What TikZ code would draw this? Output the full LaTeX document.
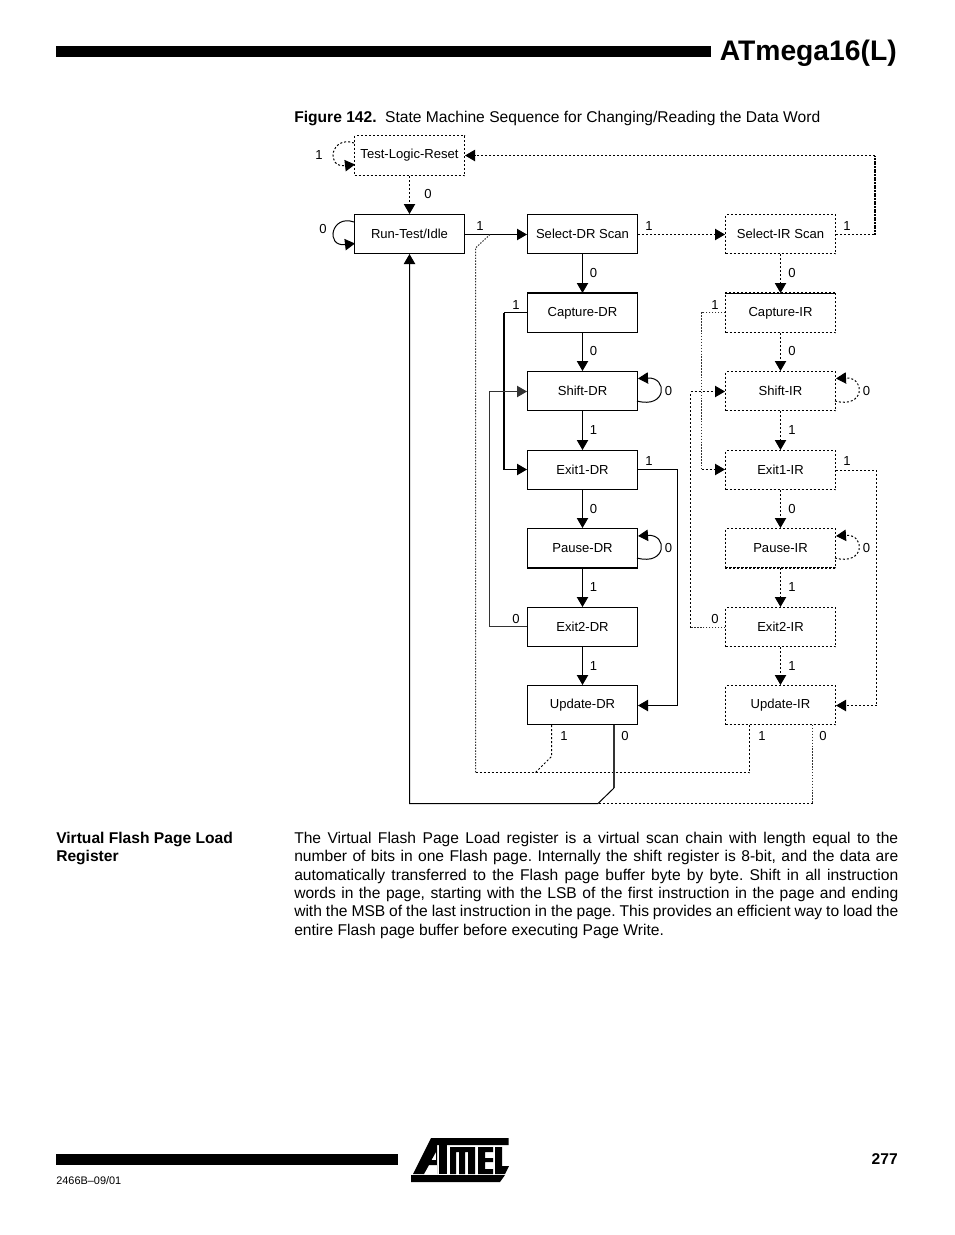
\documentclass[tikz,border=0pt]{standalone}
\usepackage{fontspec}
\setmainfont{Liberation Sans}
\usetikzlibrary{arrows.meta}
\frenchspacing
\tikzset{
  x=0.75pt,y=-0.75pt,
  sbox/.style={draw,line width=0.75pt,minimum width=82.5pt,minimum height=29.25pt,inner sep=0pt,font=\fontsize{9.8pt}{11pt}\selectfont},
  dbox/.style={sbox,dash pattern=on 1.5pt off 1.5pt},
  tipA/.style={-{Triangle[length=7.5pt,width=8.5pt]}},
  wire/.style={line width=0.75pt},
  hvy/.style={line width=1.4pt},
  edgeh/.style={line width=1.1pt},
  dwire/.style={line width=0.75pt,dash pattern=on 1.5pt off 1.5pt},
  gwire/.style={line width=0.75pt,dash pattern=on 1.1pt off 1.1pt,black!80},
  lab/.style={inner sep=0pt,font=\fontsize{9.8pt}{11pt}\selectfont},
  body/.style={inner sep=0pt,anchor=base west,font=\fontsize{11.7pt}{13.8pt}\selectfont},
  bar/.style={fill=black,draw=none}
}
\newcommand{\jline}[3]{\node[body] (#1) at (294,#2) {#3};}
\begin{document}
\begin{tikzpicture}
\useasboundingbox (0,0) rectangle (954,1235);
\fill[white] (0,0) rectangle (954,1235);
% page furniture
\fill[bar] (56,46) rectangle (711,57);
\node[inner sep=0pt,anchor=base east,font=\bfseries\fontsize{21.2pt}{26pt}\selectfont] (title) at (897,60) {ATmega16(L)};
\node[inner sep=0pt,anchor=base west,font=\fontsize{11.7pt}{13pt}\selectfont] (cap) at (294,122) {\textbf{Figure 142.}\hspace{0.55em}State Machine Sequence for Changing/Reading the Data Word};
\fill[bar] (56,1154) rectangle (398,1165);
\node[inner sep=0pt,anchor=base east,font=\bfseries\fontsize{11.7pt}{13pt}\selectfont] (pg) at (898,1164) {277};
\node[inner sep=0pt,anchor=base west,font=\fontsize{8.2pt}{10pt}\selectfont] (code) at (56,1184) {2466B–09/01};
% logo
\fill[black] (431,1138) -- (508.5,1138) -- (508.5,1145) -- (427.5,1145) -- cycle;
\fill[black] (411,1175) -- (505,1175) -- (500,1182) -- (411,1182) -- cycle;
\fill[black,even odd rule] (427.5,1145) -- (413,1174) -- (424,1174) -- (429,1165) -- (437,1165) -- (437,1174) -- (437,1145) -- cycle
  (436,1152) -- (436,1160) -- (431.5,1160) -- cycle;
\fill[black] (439,1145) rectangle (447,1174);
\fill[black] (450,1147) -- (475,1147) -- (475,1174) -- (468,1174) -- (468,1152) -- (465,1152) -- (465,1174) -- (459,1174) -- (459,1152) -- (456,1152) -- (456,1174) -- (450,1174) -- cycle;
\fill[black] (478,1147) -- (493,1147) -- (493,1152) -- (485,1152) -- (485,1158) -- (493,1158) -- (493,1162) -- (485,1162) -- (485,1169) -- (493,1169) -- (493,1174) -- (478,1174) -- cycle;
\fill[black] (495,1147) -- (502,1147) -- (502,1166) -- (509,1166) -- (505,1174) -- (495,1174) -- cycle;
% body text
\node[inner sep=0pt,anchor=base west,font=\bfseries\fontsize{11.7pt}{13.8pt}\selectfont] (hd1) at (56,843) {Virtual Flash Page Load};
\node[inner sep=0pt,anchor=base west,font=\bfseries\fontsize{11.7pt}{13.8pt}\selectfont] (hd2) at (56,861) {Register};
\jline{b1}{843}{\makebox[453pt][s]{The Virtual Flash Page Load register is a virtual scan chain with length equal to the}}
\jline{b2}{861}{\makebox[453pt][s]{number of bits in one Flash page. Internally the shift register is 8-bit, and the data are}}
\jline{b3}{880}{\makebox[453pt][s]{automatically transferred to the Flash page buffer byte by byte. Shift in all instruction}}
\jline{b4}{898}{\makebox[453pt][s]{words in the page, starting with the LSB of the first instruction in the page and ending}}
\jline{b5}{916}{\makebox[453pt][s]{with the MSB of the last instruction in the page. This provides an efficient way to load the}}
\jline{b6}{935}{entire Flash page buffer before executing Page Write.}
% states
\node[dbox,minimum height=30pt] (tlr) at (409.5,155.5) {\raisebox{-0.7pt}{Test-Logic-Reset}};
\node[sbox] (rti) at (409.5,234) {Run-Test/Idle};
\node[sbox] (sdr) at (582.5,234) {Select-DR Scan};
\node[sbox] (cdr) at (582.5,313) {Capture-DR};
\node[sbox] (shd) at (582.5,391) {Shift-DR};
\node[sbox] (e1d) at (582.5,470) {Exit1-DR};
\node[sbox] (pd) at (582.5,548) {Pause-DR};
\node[sbox] (e2d) at (582.5,627) {\raisebox{0.75pt}{Exit2-DR}};
\node[sbox] (ud) at (582.5,705) {\raisebox{-1pt}{Update-DR}};
\node[dbox] (sir) at (780.5,234) {Select-IR Scan};
\node[dbox] (cir) at (780.5,313) {Capture-IR};
\node[dbox] (shi) at (780.5,391) {Shift-IR};
\node[dbox] (e1i) at (780.5,470) {Exit1-IR};
\node[dbox] (pi) at (780.5,548) {Pause-IR};
\node[dbox] (e2i) at (780.5,627) {\raisebox{0.75pt}{Exit2-IR}};
\node[dbox] (ui) at (780.5,705) {\raisebox{-1pt}{Update-IR}};
% heavier edges of some boxes
\draw[edgeh] (cdr.north west) -- (cdr.north east);
\draw[edgeh] (pd.south west) -- (pd.south east);
\draw[edgeh,dash pattern=on 1.5pt off 1.5pt] (cir.north west) -- (cir.north east);
\draw[edgeh,dash pattern=on 1.5pt off 1.5pt] (pi.south west) -- (pi.south east);
% routing coordinates
\coordinate (j0) at (490,234.5);
\coordinate (j2) at (475.5,248);
\coordinate (j3) at (475.5,772.5);
\coordinate (j4) at (749.5,772.5);
\coordinate (j6) at (551.5,725);
\coordinate (j7) at (551.5,756.5);
\coordinate (j8) at (535.5,772.5);
\coordinate (k1) at (614,725);
\coordinate (k2) at (614,788);
\coordinate (k3) at (598,803.5);
\coordinate (k4) at (409.5,803.5);
\coordinate (k6) at (812.5,803.5);
\coordinate (m1) at (875,234.5);
\coordinate (m2) at (875,155.5);
\coordinate (n1) at (504,312.5);
\coordinate (n2) at (504,469.5);
\coordinate (n3) at (489.5,626.5);
\coordinate (n4) at (489.5,391.5);
\coordinate (n5) at (677.5,469.5);
\coordinate (n6) at (677.5,705.5);
\coordinate (q1) at (701.5,312.5);
\coordinate (q2) at (701.5,469.5);
\coordinate (q3) at (690.5,627.5);
\coordinate (q4) at (690.5,391.5);
\coordinate (q5) at (876.5,470.5);
\coordinate (q6) at (876.5,705.5);
% chains
\draw[dwire,tipA] (tlr.south) -- (rti.north);
\draw[wire,tipA] (rti.east |- j0) -- (sdr.west |- j0);
\draw[wire,tipA] (sdr.south) -- (cdr.north);
\draw[wire,tipA] (cdr.south) -- (shd.north);
\draw[wire,tipA] (shd.south) -- (e1d.north);
\draw[wire,tipA] (e1d.south) -- (pd.north);
\draw[wire,tipA] (pd.south) -- (e2d.north);
\draw[wire,tipA] (e2d.south) -- (ud.north);
\draw[dwire,tipA] (sdr.east |- j0) -- (sir.west |- j0);
\draw[dwire,tipA] (sir.south) -- (cir.north);
\draw[dwire,tipA] (cir.south) -- (shi.north);
\draw[dwire,tipA] (shi.south) -- (e1i.north);
\draw[dwire,tipA] (e1i.south) -- (pi.north);
\draw[dwire,tipA] (pi.south) -- (e2i.north);
\draw[dwire,tipA] (e2i.south) -- (ui.north);
% returns
\draw[dwire] (sir.east |- m1) -- (m1);
\draw[hvy,dash pattern=on 1.3pt off 0.7pt] (m1) -- (m2);
\draw[dwire,tipA] (m2) -- (tlr.east);
\draw[wire] (cdr.west |- n1) -- (n1);
\draw[hvy] (n1) -- (n2);
\draw[wire,tipA] (n2) -- (n2 -| e1d.west);
\draw[wire,black!80,tipA] (e2d.west |- n3) -- (n3) -- (n4) -- (n4 -| shd.west);
\draw[wire] (e1d.east |- n5) -- (n5) -- (n6);
\draw[wire,tipA] (n6) -- (n6 -| ud.east);
\draw[gwire] (cir.west |- q1) -- (q1) -- (q2);
\draw[dwire,tipA] (q2) -- (q2 -| e1i.west);
\draw[gwire] (e2i.west |- q3) -- (q3);
\draw[dwire,tipA] (q3) -- (q4) -- (q4 -| shi.west);
\draw[dwire] (e1i.east |- q5) -- (q5) -- (q6);
\draw[dwire,tipA] (q6) -- (q6 -| ui.east);
% exits of the update states
\draw[gwire] (j0) -- (j2) -- (j3);
\draw[dwire] (j3) -- (j4) -- (j4 |- ui.south);
\draw[dwire] (j6) -- (j7) -- (j8);
\draw[hvy,black!80] (k1) -- (k2);
\draw[wire,tipA] (k2) -- (k3) -- (k4) -- (rti.south);
\draw[gwire] (k6 |- ui.south) -- (k6);
\draw[dwire] (k6) -- (k3);
% self loops
\draw[dwire,tipA] (354,143) .. controls (331,135) and (325,168) .. (355,164.5);
\draw[wire,tipA] (354,222) .. controls (331,214) and (325,247) .. (355,243.5);
\draw[wire,tipA] (637,401) .. controls (667,409) and (668,377) .. (638,378.5);
\draw[dwire,tipA] (835,401) .. controls (865,409) and (866,377) .. (836,378.5);
\draw[wire,tipA] (637,558) .. controls (667,566) and (668,534) .. (638,536);
\draw[dwire,tipA] (835,558) .. controls (865,566) and (866,534) .. (836,536);
% labels
\foreach \t/\xx/\yy/\n in {1/319/155/a,0/428/194/b,0/323/229/c,1/480/226/d,1/649/226/e,1/847/226/f,
 0/593.5/273/g,0/792/273/h,1/516/305/i,1/715/305/j,0/593.5/351/k,0/792/351/l,0/668.5/391/m,0/866.5/391/o,
 1/593.5/430/p,1/792/430/q,1/649/461/r,1/847/461/s,0/593.5/509/t,0/792/509/u,0/668.5/548/v,0/866.5/548/w,
 1/593.5/587/x,1/792/587/y,0/516/619/z,0/715/619/aa,1/593.5/666/ab,1/792/666/ac,1/564/736/ad,0/625/736/ae,
 1/762/736/af,0/823/736/ag}
  \node[lab] (l\n) at (\xx,\yy) {\t};
\end{tikzpicture}
\end{document}
